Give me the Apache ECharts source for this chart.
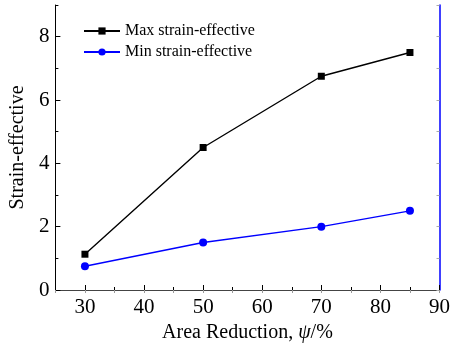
<!DOCTYPE html>
<html>
<head>
<meta charset="utf-8">
<script src="https://cdn.jsdelivr.net/npm/echarts@6/dist/echarts.min.js"></script>
<style>
  html, body { margin: 0; padding: 0; background: #fff; }
  #main { width: 453px; height: 351px; }
</style>
</head>
<body>
<div id="main"></div>
<script>
// 数据
var areaReduction = [30, 50, 70, 85];
var maxStrain = [1.13, 4.5, 6.75, 7.5];
var minStrain = [0.75, 1.5, 2.0, 2.5];
var xMajorTicks = [30, 40, 50, 60, 70, 80, 90];
var yMajorTicks = [0, 2, 4, 6, 8];

var font = 'Liberation Serif';

function pairs(xs, ys) {
  var out = [];
  for (var i = 0; i < xs.length; i++) {
    out.push([xs[i], ys[i]]);
  }
  return out;
}

var chart = echarts.init(document.getElementById('main'), null, {renderer: 'canvas'});
var option = {
  animation: false,
  backgroundColor: '#fff',
  grid: {
    left: 55,
    right: 12,
    top: 5,
    bottom: 61
  },
  legend: {
    orient: 'vertical',
    left: 83,
    top: 23,
    padding: 0,
    itemWidth: 36,
    itemHeight: 9,
    itemGap: 5,
    textStyle: {
      fontFamily: font,
      fontSize: 16,
      color: '#000'
    },
    data: ['Max strain-effective', 'Min strain-effective']
  },
  xAxis: [
    // 主刻度 + 标签
    {
      type: 'value',
      position: 'bottom',
      min: 25,
      max: 90,
      name: 'Area Reduction, {i|ψ}/%',
      nameLocation: 'middle',
      nameGap: 32,
      nameTextStyle: {
        fontFamily: font, fontSize: 20, color: '#000',
        rich: {i: {fontFamily: font, fontSize: 20, fontStyle: 'italic', color: '#000'}}
      },
      splitLine: {show: false},
      axisLine: {lineStyle: {color: '#000', width: 1}},
      axisTick: {inside: true, length: 5, customValues: xMajorTicks, lineStyle: {color: '#000'}},
      axisLabel: {customValues: xMajorTicks, margin: 7, fontFamily: font, fontSize: 21, color: '#000'}
    },
    // 次刻度
    {
      type: 'value',
      position: 'bottom',
      min: 25,
      max: 90,
      interval: 5,
      splitLine: {show: false},
      axisLine: {show: false},
      axisTick: {inside: true, length: 3, lineStyle: {color: '#000'}},
      axisLabel: {show: false}
    },
    // 顶部边框
    {
      type: 'value',
      position: 'top',
      min: 25,
      max: 90,
      interval: 5,
      splitLine: {show: false},
      axisLine: {lineStyle: {color: '#444', width: 1}},
      axisTick: {inside: true, length: 3, lineStyle: {color: '#999'}},
      axisLabel: {show: false}
    }
  ],
  yAxis: [
    {
      type: 'value',
      position: 'left',
      min: 0,
      max: 9,
      name: 'Strain-effective',
      nameLocation: 'middle',
      nameGap: 27,
      nameTextStyle: {fontFamily: font, fontSize: 20, color: '#000'},
      splitLine: {show: false},
      axisLine: {show: true, lineStyle: {color: '#000', width: 1}},
      axisTick: {show: true, inside: true, length: 5, customValues: yMajorTicks, lineStyle: {color: '#000'}},
      axisLabel: {customValues: yMajorTicks, margin: 6, fontFamily: font, fontSize: 21, color: '#000'}
    },
    {
      type: 'value',
      position: 'left',
      min: 0,
      max: 9,
      interval: 1,
      splitLine: {show: false},
      axisLine: {show: false},
      axisTick: {show: true, inside: true, length: 3, lineStyle: {color: '#000'}},
      axisLabel: {show: false}
    },
    // 右侧边框(蓝色)
    {
      type: 'value',
      position: 'right',
      min: 0,
      max: 9,
      interval: 1,
      splitLine: {show: false},
      axisLine: {show: true, lineStyle: {color: '#0000ff', width: 1.5}},
      axisTick: {show: true, inside: true, length: 3, lineStyle: {color: '#aaa'}},
      axisLabel: {show: false}
    }
  ],
  series: [
    {
      name: 'Max strain-effective',
      type: 'line',
      xAxisIndex: 0,
      yAxisIndex: 0,
      symbol: 'rect',
      symbolSize: 7,
      lineStyle: {color: '#000', width: 1.4},
      itemStyle: {color: '#000'},
      data: pairs(areaReduction, maxStrain)
    },
    {
      name: 'Min strain-effective',
      type: 'line',
      xAxisIndex: 0,
      yAxisIndex: 0,
      symbol: 'circle',
      symbolSize: 8,
      lineStyle: {color: '#0000ff', width: 1.4},
      itemStyle: {color: '#0000ff'},
      data: pairs(areaReduction, minStrain)
    }
  ]
};
chart.setOption(option);
</script>
</body>
</html>
